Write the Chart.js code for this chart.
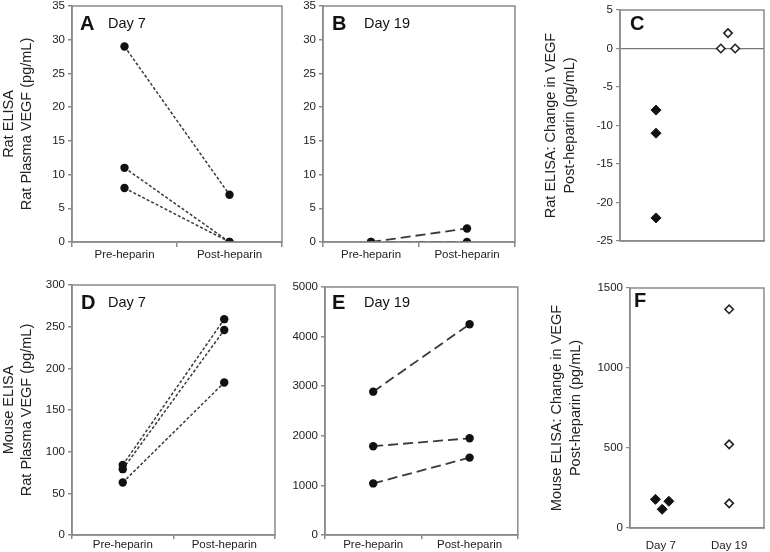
<!DOCTYPE html>
<html lang="en">
<head>
<meta charset="UTF-8">
<title>VEGF panels</title>
<script src="https://cdn.jsdelivr.net/npm/chart.js"></script>
<style>
  body { margin: 0; background: #fff; }
  #wrap { position: relative; width: 770px; height: 552px; }
  #wrap canvas { position: absolute; }
</style>
</head>
<body>
<div id="wrap">
  <canvas id="cA" width="290" height="270" style="left:0;top:0"></canvas>
  <canvas id="cB" width="232" height="270" style="left:290px;top:0"></canvas>
  <canvas id="cC" width="248" height="270" style="left:522px;top:0"></canvas>
  <canvas id="cD" width="290" height="282" style="left:0;top:270px"></canvas>
  <canvas id="cE" width="232" height="282" style="left:290px;top:270px"></canvas>
  <canvas id="cF" width="248" height="282" style="left:522px;top:270px"></canvas>
</div>
<script>
// categories
const groups = ['Pre-heparin', 'Post-heparin'];
const dayLabels = ['Day 7', 'Day 19'];

// paired values [pre, post], one row per animal
const ratDay7 = [[29, 7], [11, 0], [8, 0]];
const ratDay19 = [[0, 2], [0, 0]];
const mouseDay7 = [[84, 259], [79, 246], [63, 183]];
const mouseDay19 = [[2890, 4250], [1790, 1950], [1040, 1560]];

// change post-heparin (x = jittered position within the panel, 0..1)
const ratChangeD7 = [-8, -11, -22];
const ratChangeD7x = [0.25, 0.25, 0.25];
const ratChangeD19 = [0, 2, 0];
const ratChangeD19x = [0.70, 0.75, 0.80];
const mouseChangeD7 = [179, 117, 167];
const mouseChangeD7x = [0.19, 0.24, 0.29];
const mouseChangeD19 = [1367, 523, 154];
const mouseChangeD19x = [0.74, 0.74, 0.74];

const FONT = 'Liberation Sans, Arial, Helvetica, sans-serif';
Chart.defaults.font.family = FONT;
Chart.defaults.color = '#222';
Chart.defaults.animation = false;

const AXIS = '#8a8a8a';

// frame round the plot area + panel letter and day caption
const framePlugin = {
  id: 'frame',
  afterDraw(chart, args, o) {
    const ctx = chart.ctx, a = chart.chartArea;
    ctx.save();
    ctx.strokeStyle = AXIS;
    ctx.lineWidth = 1.5;
    ctx.strokeRect(a.left, a.top, a.right - a.left, a.bottom - a.top);
    ctx.fillStyle = '#111';
    ctx.textBaseline = 'alphabetic';
    ctx.font = 'bold 20px ' + FONT;
    ctx.fillText(o.letter, a.left + o.lx, a.top + o.ly);
    if (o.day) {
      ctx.font = '14.5px ' + FONT;
      ctx.fillText(o.day, a.left + o.dx, a.top + o.ly - 2);
    }
    ctx.restore();
  }
};

// fixed axis sizes, no automatic label overhang padding
function fixY(w) {
  return s => { s.width = w; s.paddingTop = 0; s.paddingBottom = 0; };
}
function fixX(h) {
  return s => { s.height = h; s.paddingLeft = 0; s.paddingRight = 0; };
}

function pairedPanel(id, rows, opt) {
  const datasets = rows.map(r => ({
    data: r,
    borderColor: '#3a3a3a',
    borderWidth: opt.lineWidth,
    borderDash: opt.dash,
    pointRadius: 4.2,
    pointBackgroundColor: '#111',
    pointBorderColor: '#111',
    pointBorderWidth: 0,
    fill: false
  }));
  return new Chart(document.getElementById(id), {
    type: 'line',
    data: { labels: groups, datasets: datasets },
    plugins: [framePlugin],
    options: {
      responsive: false,
      layout: { padding: { top: opt.top, right: opt.right } },
      plugins: {
        legend: { display: false },
        tooltip: { enabled: false },
        frame: opt.frame
      },
      scales: {
        x: {
          type: 'category',
          offset: true,
          grid: { display: true, drawOnChartArea: false, offset: true, color: AXIS, tickLength: opt.xTick, lineWidth: 1.5 },
          border: { color: AXIS, width: 1.5 },
          ticks: { font: { size: 11.5 }, padding: opt.xPad, maxRotation: 0 },
          afterFit: fixX(opt.xh)
        },
        y: {
          min: opt.min, max: opt.max,
          grid: { display: true, drawOnChartArea: false, color: AXIS, tickLength: 4, lineWidth: 1.5 },
          border: { color: AXIS, width: 1.5 },
          ticks: { stepSize: opt.step, font: { size: 11.5 }, padding: 3, callback: v => String(v) },
          title: opt.title ? {
            display: true, text: opt.title,
            font: { size: 14.5, lineHeight: 1.25 }, color: '#222', padding: { top: 0, bottom: 0 }
          } : { display: false },
          afterFit: fixY(opt.yw)
        }
      }
    }
  });
}

function changePanel(id, d7, d7x, d19, d19x, opt) {
  const pts = (ys, xs) => ys.map((y, i) => ({ x: xs[i], y: y }));
  return new Chart(document.getElementById(id), {
    type: 'scatter',
    data: {
      datasets: [
        { data: pts(d7, d7x), pointStyle: 'rectRot', pointRadius: 5,
          backgroundColor: '#111', borderColor: '#111', borderWidth: 1 },
        { data: pts(d19, d19x), pointStyle: 'rectRot', pointRadius: 4.2,
          backgroundColor: '#fff', borderColor: '#222', borderWidth: 1.6 }
      ]
    },
    plugins: [framePlugin],
    options: {
      responsive: false,
      layout: { padding: { top: opt.top, right: opt.right } },
      plugins: {
        legend: { display: false },
        tooltip: { enabled: false },
        frame: opt.frame
      },
      scales: {
        x: {
          type: 'linear', min: 0, max: 1,
          grid: { display: false },
          border: { color: AXIS, width: 1.5 },
          afterBuildTicks: s => { s.ticks = opt.xLabels ? [{ value: 0.23 }, { value: 0.74 }] : []; },
          ticks: {
            display: !!opt.xLabels, font: { size: 11.5 }, padding: 3,
            callback: (v, i) => opt.xLabels ? opt.xLabels[i] : ''
          },
          afterFit: fixX(opt.xh)
        },
        y: {
          min: opt.min, max: opt.max,
          grid: {
            display: true, drawOnChartArea: opt.zeroLine,
            color: c => (c.tick && c.tick.value === 0) ? '#777' : 'rgba(0,0,0,0)',
            tickColor: AXIS, tickLength: 4, lineWidth: 1.2
          },
          border: { color: AXIS, width: 1.5 },
          ticks: { stepSize: opt.step, font: { size: 11.5 }, padding: 3, callback: v => String(v) },
          title: {
            display: true, text: opt.title,
            font: { size: 14.5, lineHeight: 1.3 }, color: '#222', padding: { top: opt.titlePad, bottom: 0 }
          },
          afterFit: fixY(opt.yw)
        }
      }
    }
  });
}

pairedPanel('cA', ratDay7, {
  min: 0, max: 35, step: 5, dash: [3, 2], lineWidth: 1.5,
  top: 6, right: 8, xh: 28, yw: 72, xTick: 5, xPad: 1,
  title: ['Rat ELISA', 'Rat Plasma VEGF (pg/mL)'],
  frame: { letter: 'A', day: 'Day 7', lx: 8, ly: 24, dx: 36 }
});
pairedPanel('cB', ratDay19, {
  min: 0, max: 35, step: 5, dash: [10, 5], lineWidth: 1.8,
  top: 6, right: 7, xh: 28, yw: 33, xTick: 5, xPad: 1,
  frame: { letter: 'B', day: 'Day 19', lx: 9, ly: 24, dx: 41 }
});
changePanel('cC', ratChangeD7, ratChangeD7x, ratChangeD19, ratChangeD19x, {
  min: -25, max: 5, step: 5, zeroLine: true,
  top: 10, right: 2, xh: 29, yw: 98, titlePad: 20,
  title: ['Rat ELISA: Change in VEGF', 'Post-heparin (pg/mL)'],
  frame: { letter: 'C', lx: 10, ly: 20 }
});
pairedPanel('cD', mouseDay7, {
  min: 0, max: 300, step: 50, dash: [3, 2], lineWidth: 1.5,
  top: 15, right: 15, xh: 17, yw: 72, xTick: 4, xPad: -1,
  title: ['Mouse ELISA', 'Rat Plasma VEGF (pg/mL)'],
  frame: { letter: 'D', day: 'Day 7', lx: 9, ly: 24, dx: 36 }
});
pairedPanel('cE', mouseDay19, {
  min: 0, max: 5000, step: 1000, dash: [10, 5], lineWidth: 1.8,
  top: 17, right: 3, xh: 17, yw: 35, xTick: 4, xPad: -1,
  frame: { letter: 'E', day: 'Day 19', lx: 7, ly: 22, dx: 39 }
});
changePanel('cF', mouseChangeD7, mouseChangeD7x, mouseChangeD19, mouseChangeD19x, {
  min: 0, max: 1500, step: 500, zeroLine: false,
  top: 18, right: 1, xh: 24, yw: 108, titlePad: 26,
  title: ['Mouse ELISA: Change in VEGF', 'Post-heparin (pg/mL)'],
  xLabels: dayLabels,
  frame: { letter: 'F', lx: 4, ly: 19 }
});
</script>
</body>
</html>
